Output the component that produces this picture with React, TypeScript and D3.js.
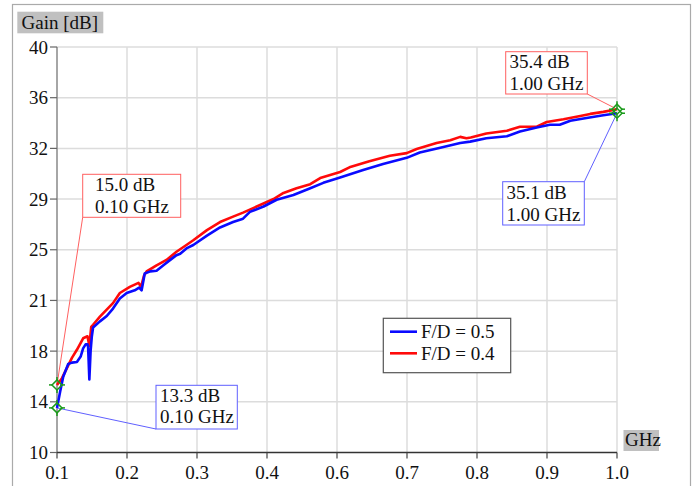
import * as d3 from "d3";
import React from "react";

// tick labels (9 equal divisions, labels rounded as in the original)
const xTickLabels = ["0.1", "0.2", "0.3", "0.4", "0.6", "0.7", "0.8", "0.9", "1.0"];
const yTickLabels = ["10", "14", "18", "21", "25", "29", "32", "36", "40"];

// F/D = 0.5 (blue)
const blueFreq = [
  0.1, 0.105, 0.11, 0.118, 0.124, 0.132, 0.138, 0.142, 0.146, 0.149, 0.15, 0.152, 0.154, 0.156, 0.158,
  0.169, 0.18, 0.19, 0.201, 0.212, 0.225, 0.232, 0.236, 0.241, 0.25, 0.26, 0.271, 0.282, 0.292, 0.298,
  0.308, 0.319, 0.341, 0.362, 0.383, 0.399, 0.41, 0.432, 0.453, 0.48, 0.507, 0.528, 0.555, 0.592, 0.624,
  0.662, 0.683, 0.716, 0.748, 0.764, 0.79, 0.823, 0.844, 0.871, 0.892, 0.908, 0.925, 0.951, 0.978, 1.0,
];
const blueGain = [
  13.3, 14.5, 15.6, 16.55, 16.65, 16.7, 17.1, 17.7, 18.0, 18.0, 17.8, 15.4, 17.5, 18.6, 19.25,
  19.7, 20.1, 20.65, 21.4, 21.8, 22.0, 22.2, 22.0, 23.25, 23.4, 23.45, 23.85, 24.25, 24.6, 24.7,
  25.1, 25.35, 26.05, 26.65, 27.05, 27.3, 27.8, 28.2, 28.7, 29.05, 29.55, 29.95, 30.35, 30.9, 31.35,
  31.8, 32.2, 32.55, 32.9, 33.0, 33.25, 33.4, 33.75, 34.05, 34.25, 34.25, 34.55, 34.75, 34.95, 35.1,
];

// F/D = 0.4 (red)
const redFreq = [
  0.1, 0.108, 0.124, 0.132, 0.142, 0.149, 0.152, 0.155, 0.158, 0.169, 0.19, 0.201, 0.217, 0.231, 0.235,
  0.24, 0.244, 0.26, 0.276, 0.292, 0.308, 0.319, 0.341, 0.362, 0.383, 0.399, 0.421, 0.448, 0.464, 0.485,
  0.507, 0.523, 0.555, 0.57, 0.602, 0.635, 0.662, 0.678, 0.71, 0.732, 0.748, 0.758, 0.765, 0.79, 0.823,
  0.844, 0.871, 0.887, 0.914, 0.941, 0.957, 0.978, 1.0,
];
const redGain = [
  15.0, 15.5, 17.0, 17.6, 18.45, 18.6, 17.9, 19.3, 19.45, 20.05, 21.05, 21.8, 22.25, 22.55, 22.25,
  23.1, 23.4, 23.85, 24.25, 24.85, 25.35, 25.7, 26.45, 27.05, 27.45, 27.75, 28.2, 28.75, 29.2, 29.55,
  29.85, 30.3, 30.75, 31.1, 31.55, 31.95, 32.15, 32.45, 32.9, 33.1, 33.35, 33.25, 33.3, 33.6, 33.8,
  34.1, 34.1, 34.45, 34.65, 34.9, 35.05, 35.2, 35.4,
];

const seriesNames = ["F/D = 0.5", "F/D = 0.4"];
const seriesColors = ["#0a0aff", "#ff0a0a"];

const W = 697;
const H = 486;
const FONT = "Liberation Serif, Times New Roman, DejaVu Serif, serif";

export default function App() {
  const x = d3.scaleLinear().domain([0.1, 1.0]).range([57, 617]);
  const y = d3.scaleLinear().domain([10, 40]).range([452.5, 47]);

  const xTicks = xTickLabels.map((_, i) => 0.1 + (i * 0.9) / 8);
  const yTicks = yTickLabels.map((_, i) => 10 + (i * 30) / 8);

  const bluePath = d3
    .line<number>()
    .x((d, i) => x(blueFreq[i]))
    .y((d) => y(d))(blueGain);
  const redPath = d3
    .line<number>()
    .x((d, i) => x(redFreq[i]))
    .y((d) => y(d))(redGain);

  // marker annotations: value, colour, box rect, text x, baselines, leader anchor
  const notes = [
    { f: redFreq[0], g: redGain[0], c: "#ff6060", box: [82.7, 174.3, 98, 43], tx: 95, by: [191, 213], anchor: [82.7, 217.3] },
    { f: blueFreq[0], g: blueGain[0], c: "#6060ff", box: [156, 385.3, 81.3, 43.7], tx: 160, by: [401.5, 423], anchor: [156, 429] },
    { f: redFreq[redFreq.length - 1], g: redGain[redGain.length - 1], c: "#ff6060", box: [505.7, 51.7, 81.6, 42.3], tx: 509.5, by: [68, 90], anchor: [587.3, 94] },
    { f: blueFreq[blueFreq.length - 1], g: blueGain[blueGain.length - 1], c: "#6060ff", box: [502.7, 181.7, 81.6, 43.3], tx: 506.5, by: [198.5, 220.5], anchor: [584.3, 181.7] },
  ];

  return (
    <svg
      width={W}
      height={H}
      style={{ position: "absolute", left: 0, top: 0, background: "#fff", fontFamily: FONT }}
    >
      <rect x={12.5} y={4.5} width={678} height={500} fill="#fff" stroke="#aaa" strokeWidth={1.2} />

      {/* grid */}
      {xTicks.slice(1).map((t, i) => (
        <line key={"gx" + i} x1={x(t)} x2={x(t)} y1={y(40)} y2={y(10)} stroke="#dcdcdc" strokeWidth={1.5} />
      ))}
      {yTicks.slice(1).map((t, i) => (
        <line key={"gy" + i} x1={x(0.1)} x2={x(1.0)} y1={y(t)} y2={y(t)} stroke="#dcdcdc" strokeWidth={1.5} />
      ))}

      {/* axes */}
      <line x1={x(0.1)} x2={x(0.1)} y1={y(40)} y2={y(10)} stroke="#888" strokeWidth={1.5} />
      <line x1={x(0.1)} x2={x(1.0)} y1={y(10)} y2={y(10)} stroke="#333" strokeWidth={1.3} />
      {yTicks.map((t, i) => (
        <g key={"yt" + i}>
          <line x1={50} x2={x(0.1)} y1={y(t)} y2={y(t)} stroke="#666" strokeWidth={1.2} />
          <text x={48} y={y(t)} dy="0.35em" textAnchor="end" fontSize={19} fill="#111">
            {yTickLabels[i]}
          </text>
        </g>
      ))}
      {xTicks.map((t, i) => (
        <g key={"xt" + i}>
          <line x1={x(t)} x2={x(t)} y1={y(10)} y2={y(10) + 6} stroke="#444" strokeWidth={1.2} />
          <text x={x(t)} y={479} textAnchor="middle" fontSize={19} fill="#111">
            {xTickLabels[i]}
          </text>
        </g>
      ))}

      {/* axis titles */}
      <rect x={17.3} y={11.7} width={86} height={21.6} fill="#c0c0c0" />
      <text x={21.5} y={28.5} fontSize={19} fill="#111">
        Gain [dB]
      </text>
      <rect x={623.5} y={430} width={35.5} height={21} fill="#c0c0c0" />
      <text x={625} y={446} fontSize={19} fill="#111">
        GHz
      </text>

      {/* leader lines */}
      {notes.map((n, i) => (
        <line key={"ld" + i} x1={n.anchor[0]} y1={n.anchor[1]} x2={x(n.f)} y2={y(n.g)} stroke={n.c} strokeWidth={1} />
      ))}

      {/* curves */}
      <path d={redPath || ""} fill="none" stroke={seriesColors[1]} strokeWidth={2.6} strokeLinejoin="round" />
      <path d={bluePath || ""} fill="none" stroke={seriesColors[0]} strokeWidth={2.6} strokeLinejoin="round" />

      {/* markers */}
      {notes.map((n, i) => {
        const cx = x(n.f);
        const cy = y(n.g);
        const r = 5;
        return (
          <g key={"mk" + i} stroke="#1a9a1a" strokeWidth={1.5} fill="none">
            <path d={`M${cx - r},${cy}L${cx},${cy - r}L${cx + r},${cy}L${cx},${cy + r}Z`} />
            <line x1={cx - r - 3} x2={cx - r} y1={cy} y2={cy} />
            <line x1={cx + r} x2={cx + r + 3} y1={cy} y2={cy} />
            <line x1={cx} x2={cx} y1={cy - r - 3} y2={cy - r} />
            <line x1={cx} x2={cx} y1={cy + r} y2={cy + r + 3} />
          </g>
        );
      })}

      {/* annotation boxes */}
      {notes.map((n, i) => (
        <g key={"nb" + i}>
          <rect x={n.box[0]} y={n.box[1]} width={n.box[2]} height={n.box[3]} fill="#fff" stroke={n.c} strokeWidth={1} />
          <text x={n.tx} y={n.by[0]} fontSize={19} fill="#111">
            {n.g.toFixed(1)} dB
          </text>
          <text x={n.tx} y={n.by[1]} fontSize={19} fill="#111">
            {n.f.toFixed(2)} GHz
          </text>
        </g>
      ))}

      {/* legend */}
      <rect x={383.3} y={318.3} width={127.4} height={54.4} fill="#fff" stroke="#555" strokeWidth={1.2} />
      {seriesNames.map((s, i) => (
        <g key={"lg" + i}>
          <line x1={390} x2={417} y1={331.7 + i * 21.6} y2={331.7 + i * 21.6} stroke={seriesColors[i]} strokeWidth={2.6} />
          <text x={421} y={331.7 + i * 21.6} dy="0.35em" fontSize={19} fill="#111">
            {s}
          </text>
        </g>
      ))}
    </svg>
  );
}
